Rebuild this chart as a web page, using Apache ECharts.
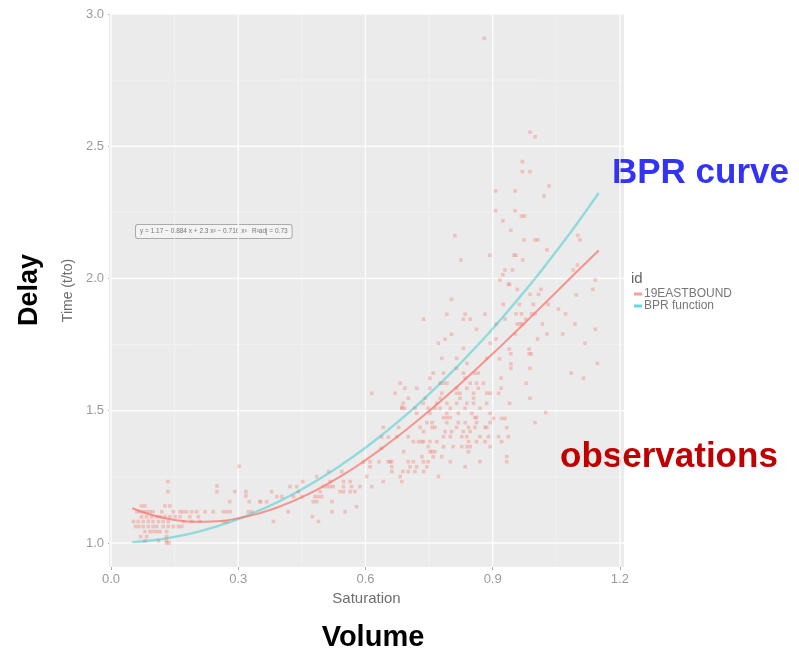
<!DOCTYPE html>
<html><head><meta charset="utf-8">
<script src="https://cdn.jsdelivr.net/npm/echarts@6/dist/echarts.min.js"></script>
<style>html,body{margin:0;padding:0;background:#fff}#c{width:799px;height:655px}</style>
</head><body><div id="c"></div>
<script>
// tick labels
const xTicks = [0, 0.3, 0.6, 0.9, 1.2];
const yTicks = [1.0, 1.5, 2.0, 2.5, 3.0];
const xMinor = [0.15, 0.45, 0.75, 1.05];
const yMinor = [1.25, 1.75, 2.25, 2.75];

// fitted curves
const fitX   = [0.05,0.10,0.15,0.20,0.25,0.30,0.35,0.40,0.45,0.50,0.55,0.60,0.65,0.70,0.75,0.80,0.85,0.90,0.95,1.00,1.05,1.10,1.15];
const fitObs = [1.131,1.104,1.087,1.080,1.082,1.093,1.112,1.139,1.173,1.214,1.260,1.313,1.371,1.433,1.499,1.568,1.641,1.715,1.792,1.870,1.949,2.028,2.106];
const fitBPR = [1.003,1.010,1.023,1.040,1.063,1.090,1.123,1.160,1.203,1.250,1.303,1.360,1.423,1.490,1.563,1.640,1.723,1.810,1.903,2.000,2.103,2.210,2.323];

// observations: low saturation cluster
const obsLow = [
[0.134,1.232],[0.134,1.194],[0.25,1.215],[0.25,1.194],[0.292,1.194],[0.318,1.194],[0.318,1.178],[0.28,1.156],[0.326,1.156],[0.353,1.156],[0.367,1.156],[0.302,1.29],
[0.072,1.14],[0.080,1.14],[0.127,1.14],[0.139,1.14],
[0.061,1.118],[0.068,1.118],[0.076,1.118],[0.084,1.118],[0.092,1.118],[0.099,1.118],[0.12,1.118],[0.147,1.118],[0.163,1.118],[0.170,1.118],[0.178,1.118],[0.19,1.118],[0.202,1.118],[0.222,1.118],[0.241,1.118],[0.265,1.118],[0.273,1.118],[0.281,1.118],[0.324,1.118],[0.332,1.118],
[0.072,1.099],[0.084,1.099],[0.096,1.099],[0.108,1.099],[0.116,1.099],[0.127,1.099],[0.139,1.099],[0.151,1.099],[0.163,1.099],[0.186,1.099],[0.206,1.099],
[0.053,1.081],[0.064,1.081],[0.076,1.081],[0.088,1.081],[0.099,1.081],[0.112,1.081],[0.123,1.081],[0.135,1.081],[0.171,1.081],[0.19,1.081],[0.21,1.081],[0.265,1.081],[0.273,1.081],
[0.058,1.062],[0.066,1.062],[0.076,1.062],[0.088,1.062],[0.099,1.062],[0.108,1.062],[0.123,1.062],[0.135,1.062],[0.147,1.062],[0.159,1.062],[0.167,1.062],
[0.080,1.043],[0.092,1.043],[0.1,1.043],[0.108,1.043],[0.116,1.043],[0.131,1.043],
[0.07,1.024],[0.084,1.024],[0.131,1.024],[0.080,1.008],[0.112,1.008],[0.131,1.008],[0.131,1.0],[0.137,1.0]
];
// observations: middle saturation
const obsMid = [
[0.686,1.513],[0.642,1.437],[0.678,1.437],[0.638,1.40],[0.654,1.40],[0.637,1.358],[0.69,1.345],[0.595,1.305],[0.611,1.307],[0.632,1.307],[0.658,1.307],[0.611,1.288],[0.662,1.27],[0.688,1.27],[0.513,1.27],[0.544,1.27],[0.603,1.251],[0.682,1.251],[0.686,1.232],[0.642,1.232],[0.485,1.251],[0.452,1.232],[0.517,1.232],[0.548,1.232],[0.564,1.232],
[0.422,1.213],[0.438,1.213],[0.501,1.213],[0.509,1.213],[0.517,1.213],[0.524,1.213],[0.548,1.213],[0.567,1.213],[0.587,1.213],[0.615,1.213],
[0.379,1.194],[0.442,1.194],[0.493,1.194],[0.54,1.194],[0.548,1.194],[0.564,1.194],[0.575,1.194],
[0.391,1.175],[0.403,1.175],[0.43,1.175],[0.45,1.175],[0.481,1.175],[0.489,1.175],[0.497,1.175],
[0.351,1.156],[0.477,1.156],[0.485,1.156],[0.521,1.156],[0.579,1.137],[0.521,1.118],[0.418,1.118],[0.552,1.118],[0.475,1.1],[0.489,1.081],[0.383,1.081],[0.615,1.566],
[0.803,1.921],[0.792,1.865],[0.835,1.865],[0.882,1.865],[0.737,1.846],[0.831,1.846],[0.847,1.846],[0.803,1.789],[0.862,1.808],[0.894,1.755],[0.772,1.755],[0.788,1.77],[0.831,1.736],
[0.78,1.698],[0.815,1.698],[0.886,1.698],[0.839,1.679],[0.815,1.66],[0.76,1.642],[0.784,1.642],[0.831,1.642],[0.858,1.642],[0.866,1.642],[0.835,1.623],[0.752,1.623],[0.776,1.604],[0.784,1.604],[0.792,1.604],[0.682,1.604],[0.847,1.604],[0.862,1.604],[0.878,1.604],
[0.693,1.585],[0.721,1.585],[0.752,1.585],[0.815,1.585],[0.839,1.585],[0.866,1.585],
[0.67,1.566],[0.78,1.566],[0.815,1.566],[0.823,1.566],[0.855,1.566],[0.886,1.566],[0.894,1.566],
[0.701,1.547],[0.741,1.547],[0.776,1.547],[0.823,1.547],[0.855,1.547],
[0.689,1.528],[0.736,1.528],[0.768,1.528],[0.792,1.528],[0.815,1.528],[0.839,1.528],[0.855,1.528],[0.886,1.528],
[0.686,1.509],[0.693,1.509],[0.717,1.509],[0.748,1.509],[0.764,1.509],[0.776,1.509],[0.8,1.509],[0.835,1.509],[0.87,1.509],
[0.721,1.49],[0.752,1.49],[0.792,1.49],[0.819,1.49],[0.851,1.49],[0.894,1.49],
[0.784,1.474],[0.792,1.474],[0.8,1.474],[0.858,1.474],[0.862,1.474],
[0.745,1.455],[0.757,1.455],[0.792,1.455],[0.819,1.455],[0.835,1.455],[0.862,1.455],[0.894,1.455],
[0.729,1.437],[0.757,1.437],[0.764,1.437],[0.815,1.437],[0.843,1.437],[0.858,1.437],[0.882,1.437],[0.886,1.437],
[0.737,1.421],[0.788,1.421],[0.803,1.421],[0.831,1.421],[0.847,1.421],
[0.674,1.402],[0.701,1.402],[0.784,1.402],[0.8,1.402],[0.827,1.402],[0.839,1.402],[0.87,1.402],[0.89,1.402],[0.914,1.402],[0.937,1.402],
[0.713,1.383],[0.725,1.383],[0.733,1.383],[0.737,1.383],[0.752,1.383],[0.768,1.383],[0.843,1.383],[0.862,1.383],[0.882,1.383],[0.921,1.383],
[0.748,1.364],[0.784,1.364],[0.807,1.364],[0.827,1.364],[0.839,1.364],[0.847,1.364],[0.894,1.364],
[0.752,1.345],[0.757,1.345],[0.764,1.345],[0.843,1.345],[0.733,1.326],[0.76,1.326],[0.78,1.326],
[0.654,1.307],[0.662,1.307],[0.701,1.307],[0.713,1.307],[0.737,1.307],[0.748,1.307],[0.8,1.307],[0.87,1.307],[0.933,1.307],
[0.662,1.288],[0.705,1.288],[0.721,1.288],[0.745,1.288],[0.835,1.288],[0.701,1.27],[0.717,1.27],[0.737,1.27],[0.772,1.251]
];
// observations: high saturation
const obsHigh = [
[0.88,2.908],[0.811,2.162],[0.825,2.07],[0.893,2.088],
[0.988,2.553],[1.0,2.536],[0.97,2.442],[0.97,2.404],[0.988,2.404],[0.907,2.331],[0.953,2.331],[1.033,2.35],[1.021,2.312],[0.907,2.256],[0.953,2.256],[0.968,2.236],[0.975,2.236],[0.924,2.218],[0.943,2.182],[0.974,2.146],[1.0,2.146],[1.007,2.146],[1.101,2.163],[1.106,2.146],[1.028,2.108],[0.950,2.088],[0.955,2.088],[0.971,2.07],[1.1,2.051],[1.09,2.032],[0.929,2.032],[0.947,2.032],[0.924,2.014],[0.917,1.994],[1.142,1.994],[0.937,1.978],[0.94,1.978],[0.958,1.959],[0.988,1.94],[1.008,1.94],[1.014,1.959],[0.925,1.902],[0.963,1.902],[0.996,1.902],[1.031,1.902],[0.968,1.866],[0.992,1.866],[1.0,1.866],[0.955,1.866],[0.929,1.847],[0.958,1.828],[0.965,1.828],[0.97,1.828],[1.017,1.828],[0.908,1.828],[0.978,1.846],[0.953,1.79],[1.006,1.771],[0.908,1.771],[0.939,1.733],[0.986,1.733],[0.943,1.715],[0.986,1.715],[0.991,1.715],[0.916,1.696],[0.943,1.677],[0.943,1.66],[0.92,1.623],[0.92,1.585],[0.914,1.566],[0.94,1.528],[0.902,1.471],[0.921,1.471],[0.929,1.471],[0.933,1.436],
[1.097,1.938],[1.136,1.959],[1.055,1.884],[1.072,1.866],[1.142,1.808],[1.094,1.828],[1.065,1.79],[1.028,1.79],[1.118,1.755],[1.147,1.679],[1.085,1.642],[1.114,1.623],[0.979,1.604],[0.988,1.547],[1.025,1.493],[1.0,1.455],[0.933,1.326],[0.988,1.66]
];

const obs = obsLow.concat(obsMid, obsHigh);
const FONT = 'Liberation Sans, Arial, sans-serif';
const X_MIN = -0.0047, X_MAX = 1.2097, Y_MIN = 0.909, Y_MAX = 3.0;
const chart = echarts.init(document.getElementById('c'), null, {renderer: 'canvas'});

function gridSeries(vals, isX, color, width) {
  return vals.map(v => ({
    type: 'line', silent: true, z: 0, showSymbol: false, symbol: 'none',
    data: isX ? [[v, Y_MIN], [v, Y_MAX]] : [[X_MIN, v], [X_MAX, v]],
    lineStyle: {color: color, width: width, type: 'solid'},
    emphasis: {disabled: true}, tooltip: {show: false}
  }));
}
const gridLineSeries = [].concat(
  gridSeries(xMinor, true, '#f3f3f3', 0.8),
  gridSeries(yMinor, false, '#f3f3f3', 0.8),
  gridSeries(xTicks, true, '#fcfcfc', 1.4),
  gridSeries(yTicks, false, '#fcfcfc', 1.4)
);

chart.setOption({
  animation: false,
  backgroundColor: '#ffffff',
  grid: {left: 109, right: 175, top: 14, bottom: 88, show: true, backgroundColor: '#ebebeb', borderWidth: 0},
  xAxis: {
    type: 'value', min: X_MIN, max: X_MAX,
    name: 'Saturation', nameLocation: 'middle', nameGap: 22,
    nameTextStyle: {color: '#6e6e6e', fontSize: 15, fontFamily: FONT},
    axisLine: {show: false},
    axisTick: {show: true, length: 3, lineStyle: {color: '#aaaaaa'}, customValues: xTicks},
    axisLabel: {color: '#9a9a9a', fontSize: 13, fontFamily: FONT, margin: 6, customValues: xTicks,
      formatter: v => v.toFixed(1)},
    splitLine: {show: false}
  },
  yAxis: {
    type: 'value', min: Y_MIN, max: Y_MAX,
    name: 'Time (t/to)', nameLocation: 'middle', nameGap: 33,
    nameTextStyle: {color: '#6e6e6e', fontSize: 14, fontFamily: FONT},
    axisLine: {show: false},
    axisTick: {show: true, length: 3, lineStyle: {color: '#aaaaaa'}, customValues: yTicks},
    axisLabel: {color: '#9a9a9a', fontSize: 13, fontFamily: FONT, margin: 5, customValues: yTicks,
      formatter: v => v.toFixed(1)},
    splitLine: {show: false}
  },
  legend: {
    data: ['19EASTBOUND', 'BPR function'],
    orient: 'vertical', left: 629, top: 283, itemGap: 0,
    itemWidth: 8, itemHeight: 3, icon: 'rect',
    textStyle: {color: '#777777', fontSize: 12, fontFamily: FONT, padding: [0, 0, 0, -3]}
  },
  series: gridLineSeries.concat([
    {type: 'scatter', name: 'obs', data: obs, symbol: 'rect', symbolSize: 3.6,
     itemStyle: {color: 'rgba(248,118,109,0.45)'}, z: 2},
    {type: 'line', name: 'BPR function', data: fitX.map((x, i) => [x, fitBPR[i]]), smooth: true,
     showSymbol: false, lineStyle: {color: 'rgba(0,191,196,0.38)', width: 2.4}, itemStyle: {color: 'rgba(0,191,196,0.6)'}, z: 3},
    {type: 'line', name: '19EASTBOUND', data: fitX.map((x, i) => [x, fitObs[i]]), smooth: true,
     showSymbol: false, lineStyle: {color: 'rgba(248,118,109,0.75)', width: 2}, itemStyle: {color: 'rgba(248,118,109,0.7)'}, z: 4}
  ]),
  graphic: [
    {type: 'text', left: 631, top: 271, style: {text: 'id', fill: '#666666', font: '15px ' + FONT}},
    {type: 'text', x: 136, y: 225, style: {
      text: 'y = 1.17 − 0.884 x + 2.3 x² − 0.716 x³   R²adj = 0.73',
      fill: '#777777', font: '6.5px ' + FONT, backgroundColor: '#f3f3f3', borderColor: '#aaaaaa', borderWidth: 1,
      padding: [3, 4, 3, 4], borderRadius: 2}},
    {type: 'text', x: 30, y: 290, rotation: Math.PI / 2, style: {
      text: 'Delay', fill: '#000000', font: 'bold 27px ' + FONT, align: 'center', verticalAlign: 'middle'}},
    {type: 'text', x: 373, y: 638, style: {
      text: 'Volume', fill: '#000000', font: 'bold 29px ' + FONT, align: 'center', verticalAlign: 'middle'}},
    {type: 'text', x: 612, y: 173, style: {
      text: 'BPR curve', fill: '#3333f5', font: 'bold 35px ' + FONT, align: 'left', verticalAlign: 'middle'}},
    {type: 'text', x: 560, y: 457, style: {
      text: 'observations', fill: '#c00000', font: 'bold 35px ' + FONT, align: 'left', verticalAlign: 'middle'}}
  ]
});
</script></body></html>
